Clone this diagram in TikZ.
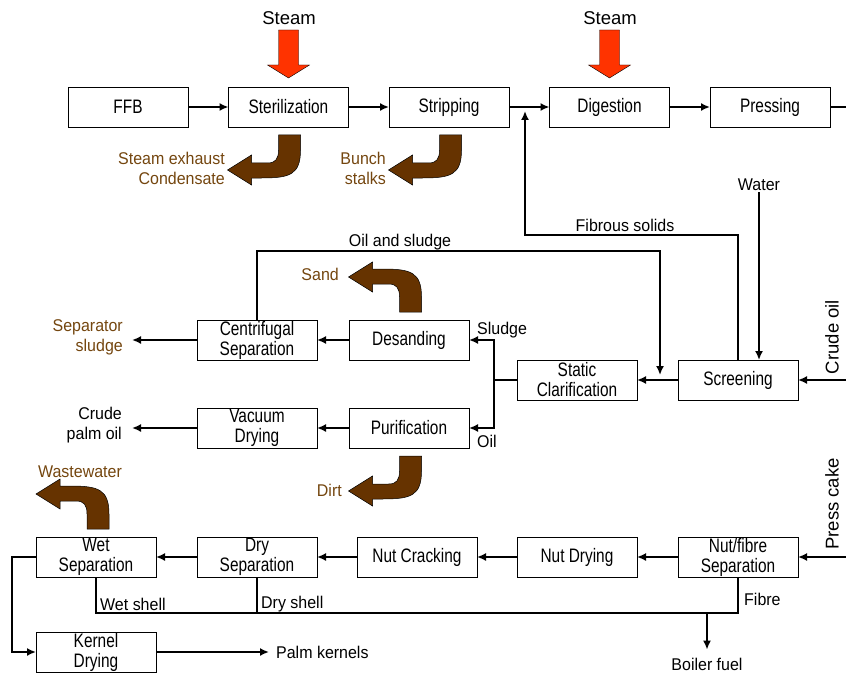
\documentclass[tikz,border=0pt]{standalone}
\usepackage{fontspec}
\setmainfont{Liberation Sans}
\newfontfamily\narrowsans[FakeStretch=0.79]{Liberation Sans}
\newfontfamily\labelsans[FakeStretch=0.94]{Liberation Sans}
\usetikzlibrary{positioning}
\usetikzlibrary{arrows.meta}
\definecolor{steamred}{HTML}{FF3300}
\definecolor{wastebrown}{HTML}{663300}
\definecolor{wastetext}{HTML}{74460F}

\begin{document}
\begin{tikzpicture}[
			x=1pt, y=-1pt,
			>={Latex[length=9pt,width=8pt]},
			process/.style={draw, line width=0.9pt, fill=white, minimum width=120pt, minimum height=40pt, inner sep=0pt, outer sep=0pt, align=center, font=\narrowsans\fontsize{19.5}{20}\selectfont},
			flow/.style={line width=1.7pt},
			flowlabel/.style={font=\labelsans\fontsize{17}{20}\selectfont, inner sep=1pt},
			wastelabel/.style={flowlabel, text=wastetext, align=right},
			bigtext/.style={font=\fontsize{18.5}{20}\selectfont, inner sep=1pt},
			steamarrow/.pic={
				\draw[fill=steamred, line width=0.4pt] (-10,-48) -- (10,-48) -- (10,-13) -- (21,-13) -- (0,0) -- (-21,-13) -- (-10,-13) -- cycle;
			},
			turnarrow/.pic={
				\draw[fill=wastebrown, line width=0.5pt] (-11,0) -- (11,0) -- (11,15) .. controls (11,40) and (0,43) .. (-28,43) -- (-38,43) -- (-38,50) -- (-62,35) -- (-38,20) -- (-38,28) -- (-22,28) .. controls (-14,28) and (-11,24) .. (-11,15) -- cycle;
			},
			]
			\useasboundingbox (0,0) rectangle (846,674);

			\node[process] (ffb) at (128,107) {FFB};
			\node[process, right=40.5pt of ffb] (steril) {Sterilization};
			\node[process, right=40.5pt of steril] (strip) {Stripping};
			\node[process, right=40.5pt of strip] (digest) {Digestion};
			\node[process, right=40.5pt of digest] (press) {Pressing};

			\node[process] (centri) at (257,340) {Centrifugal\\Separation};
			\node[process, right=32pt of centri] (desand) {Desanding};
			\node[process, below=48pt of centri] (vacuum) {Vacuum\\Drying};
			\node[process, below=48pt of desand] (purif) {Purification};
			\node[process] (static) at (577,380) {Static\\Clarification};
			\node[process, right=41pt of static] (screen) {Screening};

			\node[process] (wetsep) at (96,557) {Wet\\Separation};
			\node[process, right=41pt of wetsep] (drysep) {Dry\\Separation};
			\node[process, right=40pt of drysep] (cracking) {Nut Cracking};
			\node[process, right=40pt of cracking] (nutdry) {Nut Drying};
			\node[process, right=41pt of nutdry] (nutfibre) {Nut/fibre\\Separation};
			\node[process, below=55pt of wetsep] (kernel) {Kernel\\Drying};

			\node[bigtext] (steam1) at (289,18) {Steam};
			\node[bigtext] (steam2) at (610,18) {Steam};
			\pic at ([yshift=9pt]steril.north) {steamarrow};
			\pic at ([yshift=9pt]digest.north) {steamarrow};

			\pic at ([xshift=1pt,yshift=-8pt]steril.south) {turnarrow};
			\pic at ([xshift=1.5pt,yshift=-8pt]strip.south) {turnarrow};
			\pic at ([xshift=1.5pt,yshift=-8pt]purif.south) {turnarrow};
			\pic[yscale=-1] at ([xshift=1.5pt,yshift=8pt]desand.north) {turnarrow};
			\pic[yscale=-1] at ([xshift=2pt,yshift=8pt]wetsep.north) {turnarrow};

			\node[wastelabel, anchor=east] (condensate) at (226,168) {Steam exhaust\\Condensate};
			\node[wastelabel, anchor=east] (stalks) at (387,168) {Bunch\\stalks};
			\node[wastelabel, anchor=east] (sand) at (340,274) {Sand};
			\node[wastelabel, anchor=east] (dirt) at (343,490) {Dirt};
			\node[wastelabel] (wastewater) at (80,472) {Wastewater};
			\node[wastelabel, anchor=east] (sepsludge) at (124,337) {Separator\\sludge};

			\node[flowlabel, align=right, anchor=east] (palmoil) at (123,425) {Crude\\palm oil};
			\node[flowlabel] (water) at (759,185) {Water};
			\node[flowlabel] (fibrous) at (625,225) {Fibrous solids};
			\node[flowlabel] (oilsludge) at (400,242) {Oil and sludge};
			\node[flowlabel, anchor=west] (sludge) at (476,330) {Sludge};
			\node[flowlabel, anchor=west] (oil) at (476,441) {Oil};
			\node[flowlabel, anchor=west] (wetshell) at (99,604) {Wet shell};
			\node[flowlabel, anchor=west] (dryshell) at (260,604) {Dry shell};
			\node[flowlabel, anchor=west] (fibre) at (743,599) {Fibre};
			\node[flowlabel, anchor=west] (kernels) at (275,652) {Palm kernels};
			\node[flowlabel] (boiler) at (707,664) {Boiler fuel};
			\node[bigtext, rotate=90] (crudeoil) at (832,337) {Crude oil};
			\node[bigtext, rotate=90] (presscake) at (832,504) {Press cake};

			\coordinate (pressout) at (846,107);
			\coordinate (crudein) at (846,380);
			\coordinate (cakein) at (846,557);
			\coordinate (fibreend) at (525,111);
			\coordinate (oilsludgeend) at (660,375);
			\coordinate (split) at (494,380);
			\coordinate (fuelsplit) at (707,613);

			\draw[flow, ->] (ffb) -- (steril);
			\draw[flow, ->] (steril) -- (strip);
			\draw[flow, ->] (strip) -- (digest);
			\draw[flow, ->] (digest) -- (press);
			\draw[flow] (press) -- (pressout);

			\draw[flow, ->] (crudein) -- (screen);
			\draw[flow, ->] (screen.north) -- ++(0,-125) -| (fibreend);
			\draw[flow, ->] (water.south) -- (water.south |- screen.north);
			\draw[flow, ->] (screen) -- (static);
			\draw[flow, ->] (centri.north) -- ++(0,-69) -| (oilsludgeend);
			\draw[flow] (static.west) -- (split);
			\draw[flow, ->] (split) |- (desand.east);
			\draw[flow, ->] (split) |- (purif.east);
			\draw[flow, ->] (desand) -- (centri);
			\draw[flow, ->] (purif) -- (vacuum);
			\draw[flow, ->] (centri.west) -- ++(-65,0);
			\draw[flow, ->] (vacuum.west) -- ++(-65,0);

			\draw[flow, ->] (cakein) -- (nutfibre);
			\draw[flow, ->] (nutfibre) -- (nutdry);
			\draw[flow, ->] (nutdry) -- (cracking);
			\draw[flow, ->] (cracking) -- (drysep);
			\draw[flow, ->] (drysep) -- (wetsep);
			\draw[flow, ->] (wetsep.west) -- ++(-24,0) |- (kernel.west);
			\draw[flow, ->] (kernel.east) -- ([xshift=-6pt]kernels.west);
			\draw[flow] (wetsep.south) |- (fuelsplit);
			\draw[flow] (drysep.south) -- (drysep.south |- fuelsplit);
			\draw[flow] (nutfibre.south) |- (fuelsplit);
			\draw[flow, ->] (fuelsplit) -- ([yshift=7pt]boiler.north);
		\end{tikzpicture}
\end{document}
